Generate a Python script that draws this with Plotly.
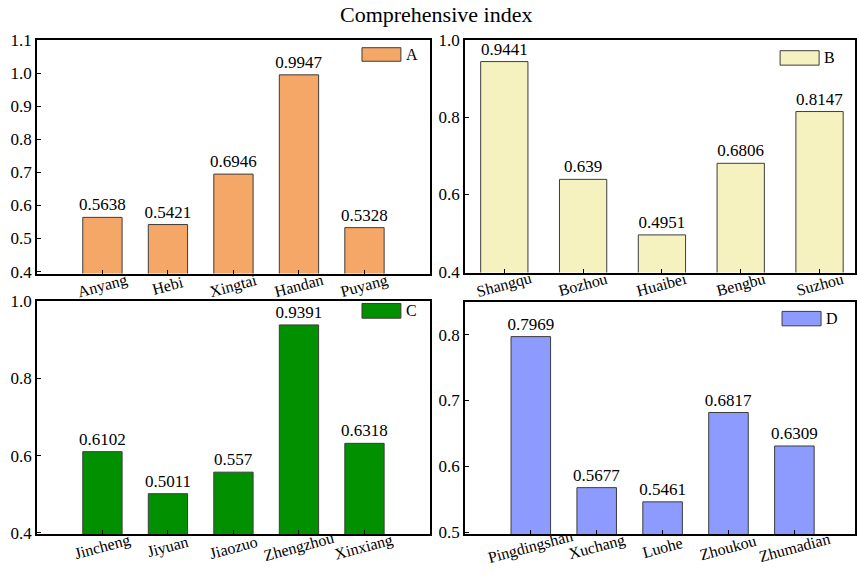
import plotly.graph_objects as go

# Comprehensive index values per city group
cities_a = ["Anyang", "Hebi", "Xingtai", "Handan", "Puyang"]
index_a = [0.5638, 0.5421, 0.6946, 0.9947, 0.5328]

cities_b = ["Shangqu", "Bozhou", "Huaibei", "Bengbu", "Suzhou"]
index_b = [0.9441, 0.639, 0.4951, 0.6806, 0.8147]

cities_c = ["Jincheng", "Jiyuan", "Jiaozuo", "Zhengzhou", "Xinxiang"]
index_c = [0.6102, 0.5011, 0.557, 0.9391, 0.6318]

cities_d = ["Pingdingshan", "Xuchang", "Luohe", "Zhoukou", "Zhumadian"]
index_d = [0.7969, 0.5677, 0.5461, 0.6817, 0.6309]

group_names = ["A", "B", "C", "D"]

W, H = 857, 581
FONT = "Liberation Serif, Times New Roman, serif"


def px_x(a, b):
    return [a / W, b / W]


def px_y(top, bottom):
    return [(H - bottom) / H, (H - top) / H]


panels = [
    dict(name="A", cats=cities_a, vals=index_a, color="#F4A766",
         xd=px_x(37, 431), yd=px_y(32, 273), xr=[-1, 5], yr=[0.394, 1.1], dt=0.1,
         leg=(0.827, 0.926, 0.909, 0.967, 0.934, 0.938), lab_shift=-12),
    dict(name="B", cats=cities_b, vals=index_b, color="#F6F2BF",
         xd=px_x(466, 857), yd=px_y(32, 272), xr=[-0.5, 4.45], yr=[0.3975, 1.0], dt=0.2,
         leg=(0.808, 0.908, 0.892, 0.954, 0.916, 0.923), lab_shift=-12),
    dict(name="C", cats=cities_c, vals=index_c, color="#009000",
         xd=px_x(37, 431), yd=px_y(301, 542), xr=[-1, 5], yr=[0.396, 1.002], dt=0.2,
         leg=(0.827, 0.926, 0.925, 0.988, 0.934, 0.956), lab_shift=-13),
    dict(name="D", cats=cities_d, vals=index_d, color="#8D9BFF",
         xd=px_x(466, 857), yd=px_y(302, 542), xr=[-1, 4.92], yr=[0.497, 0.85], dt=0.1,
         leg=(0.813, 0.913, 0.896, 0.958, 0.921, 0.927), lab_shift=-13),
]

fig = go.Figure()
shapes = []
annotations = []

for i, p in enumerate(panels, start=1):
    xa = "x" if i == 1 else f"x{i}"
    ya = "y" if i == 1 else f"y{i}"
    fig.add_trace(go.Bar(
        x=p["cats"], y=p["vals"], name=p["name"],
        xaxis=xa, yaxis=ya, width=0.6,
        marker=dict(color=p["color"], line=dict(color="#3c3c3c", width=1)),
        text=[str(v) for v in p["vals"]], textposition="outside",
        constraintext="none", cliponaxis=False,
        textfont=dict(family=FONT, size=17, color="#000"),
        showlegend=False,
    ))
    ax_common = dict(showline=True, linecolor="#000", linewidth=1.6, mirror=True,
                     ticks="inside", ticklen=4, tickwidth=1, tickcolor="#000",
                     showgrid=False, zeroline=False)
    fig.layout[f"xaxis{'' if i == 1 else i}"] = dict(
        domain=p["xd"], range=p["xr"], anchor=ya, showticklabels=False,
        type="category", **ax_common)
    fig.layout[f"yaxis{'' if i == 1 else i}"] = dict(
        domain=p["yd"], range=p["yr"], anchor=xa, dtick=p["dt"], tick0=0.4,
        tickformat=".1f", tickfont=dict(family=FONT, size=17, color="#000"),
        **ax_common)

    # rotated category labels centred under each bar
    for c in p["cats"]:
        annotations.append(dict(
            x=c, y=0, xref=xa, yref=f"{ya} domain", text=c, showarrow=False,
            textangle=-15, yanchor="middle", xanchor="center", yshift=p["lab_shift"],
            font=dict(family=FONT, size=16, color="#000")))

    # legend swatch and label
    x0, x1, y0, y1, tx, ty = p["leg"]
    shapes.append(dict(type="rect", xref=f"{xa} domain", yref=f"{ya} domain",
                       x0=x0, x1=x1, y0=y0, y1=y1, fillcolor=p["color"],
                       line=dict(color="#3c3c3c", width=1)))
    annotations.append(dict(x=tx, y=ty, xref=f"{xa} domain", yref=f"{ya} domain",
                            text=p["name"], showarrow=False, xanchor="left",
                            yanchor="middle",
                            font=dict(family=FONT, size=16, color="#000")))

fig.update_layout(
    width=W, height=H,
    margin=dict(l=0, r=0, t=0, b=0),
    paper_bgcolor="white", plot_bgcolor="white",
    title=dict(text="Comprehensive index", x=0.509, xanchor="center",
               y=1 - 14 / H, yanchor="middle", yref="container",
               font=dict(family=FONT, size=22, color="#000")),
    shapes=shapes, annotations=annotations,
    bargap=0.4,
)

fig.write_html("out.html")
